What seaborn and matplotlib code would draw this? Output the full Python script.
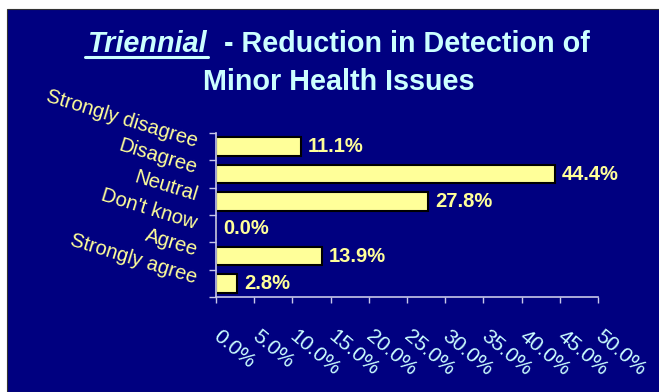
import matplotlib
matplotlib.use("Agg")
import matplotlib.pyplot as plt
from matplotlib.lines import Line2D
import seaborn as sns
import pandas as pd
import numpy as np

# Survey responses
categories = ["Strongly disagree", "Disagree", "Neutral", "Don't know", "Agree", "Strongly agree"]
percentages = [11.1, 44.4, 27.8, 0.0, 13.9, 2.8]
x_ticks = [0, 5, 10, 15, 20, 25, 30, 35, 40, 45, 50]

NAVY = "#000080"
BAR = "#FFFF99"
CYAN = "#CCFFFF"
AXIS = "#C8C8E8"

sns.set_theme(style="white")
plt.rcParams["font.family"] = ["Liberation Sans", "DejaVu Sans"]

df = pd.DataFrame({"response": categories, "pct": percentages})

fig = plt.figure(figsize=(6.59, 3.92), dpi=100)
fig.patch.set_facecolor("white")
# navy panel behind everything
fig.patches.append(plt.Rectangle((7 / 659, 0), 1, 1 - 9 / 392, transform=fig.transFigure,
                                 facecolor=NAVY, edgecolor="#333333", linewidth=0.8, zorder=-10))

ax = fig.add_axes([216 / 659, 1 - 297 / 392, (598 - 216) / 659, (297 - 133) / 392])
ax.set_facecolor(NAVY)

sns.barplot(data=df, y="response", x="pct", orient="h", color=BAR, edgecolor="black",
            linewidth=1.5, width=0.68, saturation=1, ax=ax)

ax.set_xlim(0, 50)
ax.set_ylim(len(categories) - 0.5, -0.5)
ax.set_xlabel("")
ax.set_ylabel("")

for s in ["top", "right"]:
    ax.spines[s].set_visible(False)
for s in ["left", "bottom"]:
    ax.spines[s].set_color(AXIS)
    ax.spines[s].set_linewidth(1.2)

ax.set_xticks(x_ticks)
ax.set_xticklabels([f"{v:.1f}%" for v in x_ticks], rotation=-40, ha="left", va="center",
                   rotation_mode="anchor", color=CYAN, fontsize=15)
ax.tick_params(axis="x", direction="out", length=4.3, width=1, color=AXIS, pad=22, bottom=True)

ax.set_yticks(range(len(categories)))
ax.set_yticklabels(categories, rotation=-17, ha="right", va="baseline", rotation_mode="anchor",
                   color=BAR, fontsize=14.5)
ax.tick_params(axis="y", which="major", length=0, pad=15)
ax.set_yticks(np.arange(-0.5, len(categories), 1.0), minor=True)
ax.tick_params(axis="y", which="minor", direction="out", length=5, width=1, color=AXIS, left=True)

for i, v in enumerate(percentages):
    ax.text(v + 0.9, i, f"{v:.1f}%", va="center", ha="left", color=BAR,
            fontsize=14.5, fontweight="bold")

# Title: italic underlined word followed by the rest of the first line
fig.canvas.draw()
r = fig.canvas.get_renderer()
t1 = fig.text(0, 1 - 52 / 392, "Triennial", fontsize=20.7, fontweight="bold", fontstyle="italic",
              color=CYAN, ha="left", va="baseline")
t2 = fig.text(0, 1 - 52 / 392, "  - Reduction in Detection of", fontsize=20.7, fontweight="bold",
              color=CYAN, ha="left", va="baseline")
w1 = t1.get_window_extent(r).width
w2 = t2.get_window_extent(r).width
W = fig.bbox.width
start = (339 - (w1 + w2) / 2) / W
t1.set_x(start)
t2.set_x(start + w1 / W)
uy = 1 - 57 / 392
fig.lines.append(Line2D([start - 3 / W, start + w1 / W], [uy, uy], transform=fig.transFigure,
                        color=CYAN, linewidth=2.2))
fig.text(339 / 659, 1 - 90 / 392, "Minor Health Issues", fontsize=20.7, fontweight="bold",
         color=CYAN, ha="center", va="baseline")

fig.savefig("out.png", dpi=100, facecolor=fig.get_facecolor())
